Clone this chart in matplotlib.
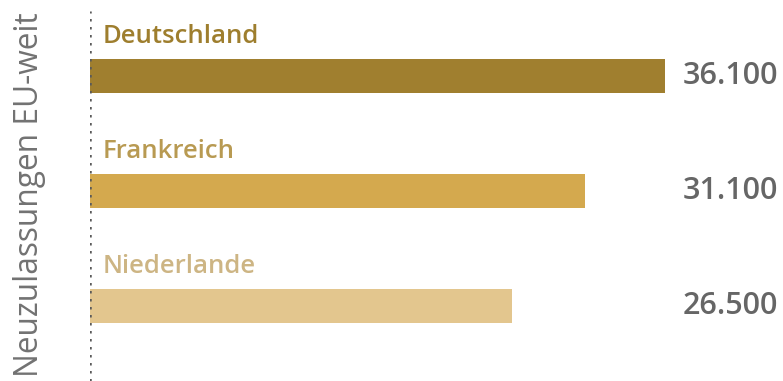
import matplotlib
matplotlib.use("Agg")
import matplotlib.pyplot as plt

countries = ["Deutschland", "Frankreich", "Niederlande"]
values = [36100, 31100, 26500]
value_labels = ["36.100", "31.100", "26.500"]
bar_colors = ["#A07F2F", "#D4A94E", "#E3C68E"]
label_colors = ["#9E7E2E", "#B89A52", "#CDB584"]

plt.rcParams['font.family'] = ['Open Sans', 'DejaVu Sans']

fig = plt.figure(figsize=(7.83, 3.81), dpi=100)
ax = fig.add_axes([90 / 783, 0, 688 / 783, 1])

pos = list(range(len(countries)))
bar_h = 34 / 115
ax.barh(pos, values, height=bar_h, color=bar_colors)

for i, name in enumerate(countries):
    ax.annotate(name, (0, i - bar_h / 2), xytext=(13, 16), textcoords="offset pixels",
                ha="left", va="baseline", fontsize=18.5, fontweight="semibold",
                color=label_colors[i])
    ax.annotate(value_labels[i], (1.0, i), xycoords=("axes fraction", "data"),
                ha="right", va="center", fontsize=22, fontweight="semibold",
                color="#666666")

ax.set_xlim(0, 36100 * 688 / 575)
ax.set_ylim(2 + 75 / 115, -76 / 115)
ax.axvline(0, ymin=0, ymax=1 - 11 / 381, color="#5a5a5a", lw=1.8,
           linestyle=(0, (1, 2.2)))
for s in ax.spines.values():
    s.set_visible(False)
ax.set_xticks([])
ax.set_yticks([])

fig.text(30 / 783, 1 - 195 / 381, "Neuzulassungen EU-weit", rotation=90,
         ha="center", va="center", fontsize=22.8, color="#727272")

fig.savefig("out.png", dpi=100)
